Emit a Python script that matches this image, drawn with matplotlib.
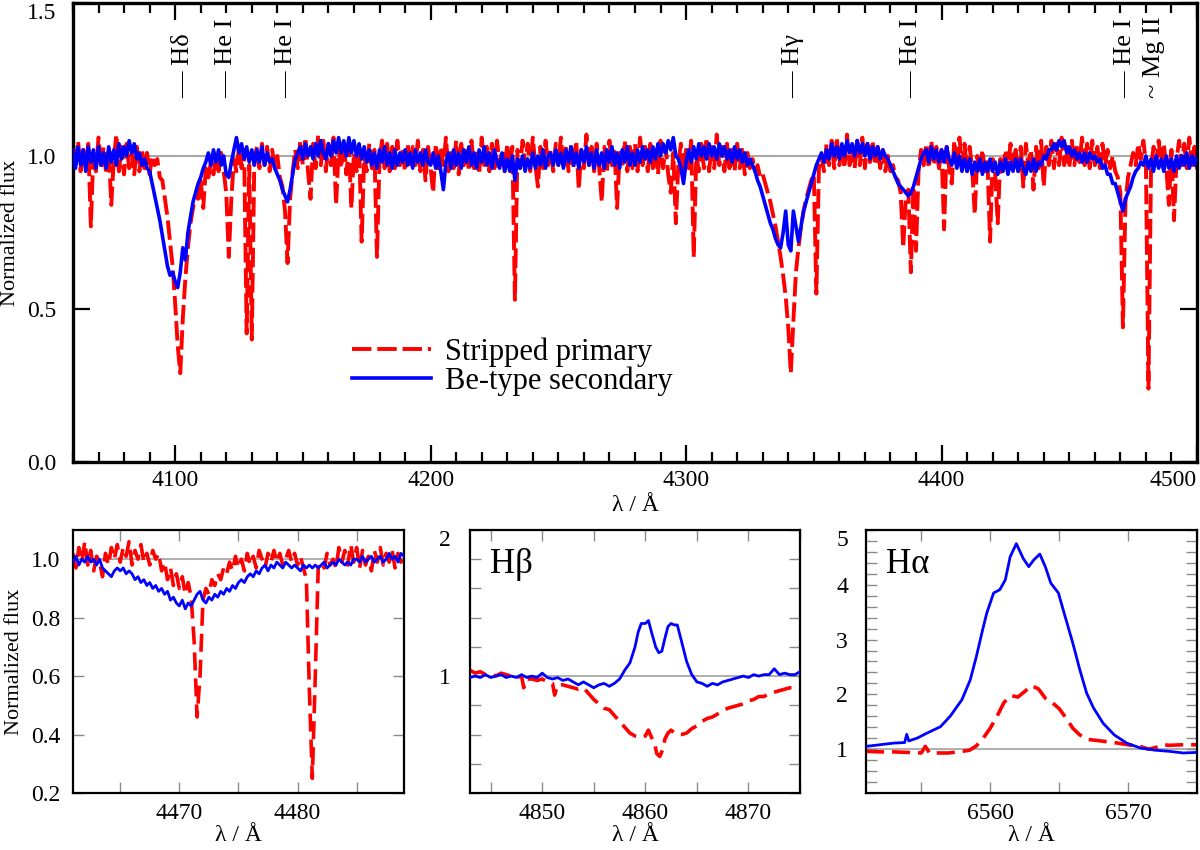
import matplotlib
matplotlib.use("Agg")
import matplotlib.pyplot as plt
import numpy as np
from matplotlib.ticker import MultipleLocator, FixedLocator, FormatStrFormatter

plt.rcParams["font.family"] = ["Liberation Serif", "DejaVu Serif"]

# ---- main panel: 1 A grid starting at 4060 A ----
MAIN_START = 4060
red_main = [
    1.03, 0.96, 1.05, 0.95, 1.02, 0.97, 1.04, 0.77, 1.01, 0.95,
    1.06, 0.96, 1.03, 0.94, 1.02, 0.84, 0.99, 1.07, 0.95, 1.03,
    0.94, 1.04, 0.96, 1.01, 0.94, 1.03, 0.95, 1.02, 0.96, 1.01,
    0.94, 1.00, 0.97, 0.99, 0.93, 0.92, 0.86, 0.80, 0.72, 0.64,
    0.52, 0.38, 0.29, 0.47, 0.60, 0.70, 0.78, 0.83, 0.87, 0.86,
    0.92, 0.83, 0.96, 0.93, 0.98, 0.94, 1.00, 0.95, 1.01, 0.95,
    0.88, 0.67, 0.86, 0.99, 0.95, 1.03, 0.96, 1.02, 0.42, 0.97,
    0.40, 0.99, 1.03, 0.96, 1.04, 0.97, 1.03, 0.95, 1.02, 0.96,
    1.00, 0.93, 0.90, 0.82, 0.65, 0.86, 0.95, 1.02, 0.96, 1.05,
    0.97, 1.06, 0.95, 0.86, 1.04, 0.96, 1.07, 0.97, 1.05, 0.95,
    1.04, 0.97, 1.06, 0.84, 1.02, 0.96, 1.05, 0.94, 1.03, 0.83,
    1.01, 0.95, 1.04, 0.72, 1.00, 0.95, 1.04, 0.96, 1.02, 0.67,
    0.99, 1.05, 0.96, 1.04, 0.95, 1.03, 0.96, 1.05, 0.97, 1.02,
    0.95, 1.04, 0.96, 1.03, 0.97, 1.05, 0.95, 1.02, 0.92, 1.03,
    0.96, 0.88, 1.04, 0.95, 1.03, 0.97, 1.06, 0.95, 1.02, 0.96,
    1.05, 0.94, 1.04, 0.97, 1.03, 0.95, 1.05, 0.96, 1.02, 0.94,
    1.06, 0.97, 1.03, 0.95, 1.04, 0.96, 1.05, 0.97, 1.02, 0.95,
    1.04, 0.96, 1.03, 0.53, 1.02, 0.96, 1.05, 0.97, 1.04, 0.95,
    1.06, 0.97, 0.90, 1.03, 0.96, 1.05, 0.97, 1.02, 0.95, 1.04,
    0.97, 1.06, 0.96, 1.03, 0.95, 1.04, 0.96, 1.05, 0.89, 1.02,
    0.96, 1.07, 0.97, 1.03, 0.95, 1.04, 0.96, 0.85, 1.03, 0.95,
    1.05, 0.97, 1.02, 0.83, 1.01, 0.96, 1.05, 0.95, 1.03, 0.96,
    1.04, 0.95, 1.06, 0.97, 1.03, 0.95, 1.04, 0.96, 1.02, 0.94,
    1.05, 0.96, 1.03, 0.94, 0.88, 1.01, 0.78, 0.98, 1.04, 0.95,
    1.02, 0.96, 1.05, 0.67, 1.00, 0.95, 1.04, 0.96, 1.06, 0.95,
    1.03, 0.96, 1.07, 0.97, 1.03, 0.95, 1.04, 0.96, 1.02, 0.95,
    1.04, 0.96, 1.02, 0.94, 1.01, 0.96, 0.99, 0.95, 0.97, 0.93,
    0.94, 0.91, 0.88, 0.85, 0.81, 0.77, 0.72, 0.67, 0.61, 0.54,
    0.44, 0.29, 0.46, 0.62, 0.70, 0.77, 0.82, 0.86, 0.89, 0.92,
    0.94, 0.55, 0.96, 1.00, 0.95, 1.04, 0.97, 1.05, 0.96, 1.06,
    0.97, 1.04, 0.96, 1.07, 0.97, 1.03, 0.96, 1.05, 0.97, 1.06,
    0.96, 1.04, 0.98, 1.05, 0.97, 1.03, 0.96, 1.02, 0.95, 1.00,
    0.95, 0.97, 0.93, 0.92, 0.88, 0.70, 0.86, 0.89, 0.62, 0.90,
    0.69, 0.95, 1.02, 0.97, 1.04, 0.96, 1.05, 0.97, 1.03, 0.96,
    1.02, 0.76, 1.03, 0.96, 0.91, 1.05, 0.96, 1.06, 0.97, 1.04,
    0.95, 1.03, 0.96, 0.81, 1.00, 0.94, 1.02, 0.95, 0.98, 0.72,
    0.99, 0.94, 0.78, 0.99, 0.95, 1.02, 0.96, 1.04, 0.96, 1.02,
    0.95, 1.03, 0.90, 1.04, 0.97, 1.02, 0.89, 1.03, 0.96, 1.05,
    0.90, 1.03, 0.97, 1.05, 0.96, 1.04, 0.97, 1.06, 0.97, 1.03,
    0.96, 1.05, 0.97, 1.04, 0.98, 1.06, 0.97, 1.04, 0.96, 1.05,
    0.97, 1.03, 0.96, 1.04, 0.97, 1.02, 0.96, 1.00, 0.95, 0.93,
    0.88, 0.44, 0.85, 0.93, 0.97, 1.01, 0.97, 1.04, 0.99, 1.05,
    0.98, 0.24, 0.96, 1.03, 0.98, 1.05, 0.97, 1.04, 0.96, 0.84,
    1.02, 0.79, 0.99, 1.05, 0.97, 1.04, 0.96, 1.06, 0.97, 1.03,
    0.96, 1.04, 0.97, 1.05, 0.96, 1.03, 0.97, 1.05, 0.96, 1.03,
    0.97,
]
blue_main = [
    1.02, 0.96, 1.03, 0.97, 1.02, 0.95, 1.03, 0.98, 1.02, 0.96,
    1.03, 0.97, 1.01, 0.96, 1.03, 0.98, 1.02, 0.97, 1.04, 0.99,
    1.03, 1.00, 1.05, 1.01, 1.04, 0.99, 1.01, 0.97, 0.99, 0.96,
    0.95, 0.91, 0.87, 0.83, 0.79, 0.74, 0.69, 0.64, 0.61, 0.62,
    0.59, 0.57, 0.62, 0.70, 0.66, 0.75, 0.80, 0.85, 0.88, 0.91,
    0.93, 0.96, 0.98, 1.01, 0.97, 1.02, 0.98, 1.02, 0.97, 1.00,
    0.94, 0.93, 0.98, 1.02, 1.06, 1.01, 1.04, 0.99, 1.03, 0.98,
    1.02, 0.97, 1.02, 0.98, 1.03, 0.97, 1.01, 0.98, 0.99, 0.96,
    0.94, 0.92, 0.89, 0.87, 0.85, 0.89, 0.94, 0.99, 1.01, 1.03,
    0.99, 1.04, 1.00, 1.03, 0.99, 1.04, 1.00, 1.05, 1.01, 0.99,
    1.04, 1.00, 1.05, 1.01, 1.06, 1.01, 1.05, 1.00, 1.06, 1.01,
    1.05, 1.00, 1.04, 0.99, 1.03, 0.98, 1.02, 0.97, 1.01, 0.96,
    1.02, 0.98, 1.03, 0.97, 1.01, 0.96, 1.02, 0.97, 1.01, 0.98,
    1.02, 0.97, 1.01, 0.96, 1.02, 0.98, 1.01, 0.97, 1.02, 0.98,
    0.97, 1.01, 0.96, 1.00, 0.95, 0.89, 0.98, 1.01, 0.96, 1.02,
    0.97, 1.01, 0.96, 1.02, 0.98, 1.03, 0.97, 1.01, 0.96, 1.02,
    0.98, 1.03, 0.97, 1.01, 0.96, 1.02, 0.98, 0.96, 1.01, 0.95,
    0.99, 0.95, 1.00, 0.92, 0.99, 0.96, 1.00, 0.95, 0.99, 0.96,
    1.01, 0.96, 1.00, 0.97, 1.02, 0.96, 1.00, 1.01, 0.97, 1.02,
    0.97, 1.01, 0.96, 1.02, 0.98, 1.03, 0.97, 1.01, 0.96, 1.02,
    0.98, 1.03, 0.97, 1.01, 0.96, 1.02, 0.97, 1.01, 0.96, 1.02,
    0.98, 1.03, 0.97, 1.01, 0.96, 1.02, 0.98, 1.03, 0.97, 1.01,
    0.97, 1.02, 0.98, 1.03, 0.99, 1.02, 0.98, 1.03, 0.99, 1.04,
    1.00, 1.04, 1.01, 1.05, 1.02, 1.06, 1.00, 0.99, 0.96, 0.91,
    0.98, 1.02, 0.98, 1.03, 0.99, 1.04, 1.00, 1.03, 0.99, 1.04,
    1.00, 1.03, 0.99, 1.04, 1.00, 1.03, 0.99, 1.02, 0.98, 1.03,
    0.99, 1.02, 0.98, 1.01, 0.97, 0.99, 0.97, 0.95, 0.92, 0.90,
    0.87, 0.84, 0.81, 0.78, 0.76, 0.73, 0.71, 0.70, 0.75, 0.82,
    0.71, 0.69, 0.82, 0.77, 0.72, 0.77, 0.82, 0.85, 0.88, 0.91,
    0.94, 0.97, 0.99, 1.01, 0.98, 1.02, 0.99, 1.04, 1.00, 1.03,
    0.99, 1.04, 1.00, 1.05, 1.01, 1.04, 1.00, 1.05, 1.01, 1.04,
    1.00, 1.04, 0.99, 1.03, 1.00, 1.03, 0.99, 1.02, 1.00, 0.99,
    0.97, 0.95, 0.93, 0.91, 0.90, 0.89, 0.88, 0.87, 0.88, 0.90,
    0.93, 0.96, 0.99, 1.01, 1.02, 0.98, 1.03, 0.99, 1.02, 0.98,
    1.02, 0.98, 1.03, 0.99, 0.97, 1.01, 0.96, 1.00, 0.95, 0.99,
    0.95, 0.99, 0.94, 0.98, 0.95, 0.99, 0.94, 0.98, 0.95, 0.99,
    0.95, 0.98, 0.94, 0.98, 0.95, 0.99, 0.94, 0.98, 0.95, 0.99,
    0.95, 0.99, 0.96, 0.94, 0.98, 0.95, 0.99, 0.95, 0.98, 0.97,
    1.00, 0.99, 1.02, 1.02, 1.04, 1.02, 1.05, 1.03, 1.05, 1.01,
    1.03, 1.00, 1.02, 0.99, 1.01, 0.98, 1.01, 0.98, 1.01, 0.99,
    1.00, 0.98, 0.99, 0.96, 0.97, 0.94, 0.94, 0.91, 0.91, 0.88,
    0.85, 0.82, 0.86, 0.88, 0.90, 0.93, 0.95, 0.96, 0.98, 0.97,
    1.00, 0.96, 0.99, 0.95, 1.00, 0.96, 0.99, 0.95, 1.00, 0.96,
    0.99, 0.95, 1.00, 0.96, 1.00, 0.97, 1.01, 0.96, 1.00, 0.97,
    1.00, 0.96, 1.01, 0.97, 0.96, 1.00, 0.95, 0.99, 0.96, 1.00,
    0.98,
]

line_labels = ["\u2014 H\u03b4", "\u2014 He I", "\u2014 He I", "\u2014 H\u03b3",
               "\u2014 He I", "\u2014 He I", "~ Mg II"]
line_waves = [4103, 4120, 4143.5, 4342, 4388, 4472, 4483]

# ---- He I 4471 / Mg II 4481 zoom: 0.25 A grid from 4461 A ----
HEI_START = 4461
red_hei = [
    1.02, 0.97, 1.04, 0.99, 1.06, 0.98, 1.03, 0.96,
    1.01, 0.99, 0.94, 1.02, 0.98, 1.04, 1.00, 1.05,
    0.99, 1.04, 1.01, 1.06, 0.98, 1.03, 1.00, 1.05,
    0.99, 1.02, 0.98, 1.03, 1.00, 1.02, 0.96, 0.99,
    0.93, 0.97, 0.91, 0.95, 0.90, 0.94, 0.88, 0.92,
    0.87, 0.72, 0.46, 0.60, 0.86, 0.90, 0.88, 0.93,
    0.91, 0.95, 0.93, 0.97, 0.95, 0.99, 0.96, 1.01,
    0.97, 1.00, 0.96, 1.02, 0.98, 1.01, 0.97, 1.03,
    1.00, 0.97, 1.02, 0.99, 1.03, 0.99, 1.02, 0.98,
    1.00, 1.03, 0.99, 1.02, 0.98, 1.01, 0.97, 0.93,
    0.55, 0.25, 0.60, 0.97, 0.99, 0.97, 1.02, 0.98,
    1.00, 0.97, 1.04, 0.99, 1.03, 0.98, 1.05, 0.99,
    1.04, 0.97, 1.03, 0.98, 1.01, 0.96, 1.03, 0.99,
    1.04, 0.98, 1.02, 0.99, 1.03, 0.97, 1.02, 0.99,
    1.01,
]
blue_hei = [
    0.99, 1.01, 0.98, 1.00, 0.99, 1.01, 0.99, 1.00,
    0.98, 1.00, 0.97, 0.96, 0.95, 0.94, 0.96, 0.97,
    0.96, 0.97, 0.95, 0.96, 0.95, 0.93, 0.94, 0.92,
    0.93, 0.91, 0.92, 0.90, 0.91, 0.89, 0.90, 0.88,
    0.89, 0.86, 0.87, 0.85, 0.84, 0.86, 0.83, 0.85,
    0.84, 0.86, 0.88, 0.89, 0.86, 0.85, 0.87, 0.86,
    0.88, 0.87, 0.89, 0.88, 0.90, 0.89, 0.91, 0.90,
    0.92, 0.93, 0.92, 0.94, 0.95, 0.94, 0.96, 0.95,
    0.97, 0.98, 0.96, 0.98, 0.97, 0.99, 0.98, 0.97,
    0.99, 0.98, 0.97, 0.98, 0.97, 0.96, 0.98, 0.97,
    0.98, 0.97, 0.98, 0.97, 0.98, 0.99, 0.97, 0.98,
    0.99, 0.98, 1.00, 0.99, 0.98, 0.99, 0.98, 1.00,
    1.00, 0.99, 1.01, 0.99, 1.00, 1.01, 0.99, 1.00,
    1.01, 0.99, 1.00, 1.02, 1.00, 1.01, 0.99, 1.02,
    1.01,
]

# ---- H beta ----
hb_wave_blue = [
    4843.0, 4843.5, 4844.0, 4844.5, 4845.0, 4845.5, 4846.0, 4846.5, 4847.0, 4847.5,
    4848.0, 4848.5, 4849.0, 4849.5, 4850.0, 4850.5, 4851.0, 4851.5, 4852.0, 4852.5,
    4853.0, 4853.5, 4854.0, 4854.5, 4855.0, 4855.5, 4856.0, 4856.5, 4857.0, 4857.5,
    4858.0, 4858.5, 4859.0, 4859.3, 4859.6, 4860.0, 4860.3, 4860.6, 4861.0, 4861.3,
    4861.6, 4861.9, 4862.2, 4862.5, 4862.8, 4863.1, 4863.5, 4864.0, 4864.5, 4865.0,
    4865.5, 4866.0, 4866.5, 4867.0, 4867.5, 4868.0, 4868.5, 4869.0, 4869.5, 4870.0,
    4870.5, 4871.0, 4871.5, 4872.0, 4872.5, 4873.0, 4873.5, 4874.0, 4874.5, 4875.0,
]
hb_flux_blue = [
    0.99, 1.00, 0.99, 1.01, 0.99, 1.00, 1.01, 0.99, 1.00, 0.99,
    1.01, 0.99, 1.00, 0.99, 1.02, 0.99, 0.98, 0.99, 0.97, 0.98,
    0.96, 0.94, 0.96, 0.94, 0.92, 0.94, 0.95, 0.93, 0.95, 0.98,
    1.04, 1.09, 1.20, 1.30, 1.36, 1.36, 1.38, 1.30, 1.20, 1.16,
    1.17, 1.26, 1.34, 1.36, 1.35, 1.35, 1.24, 1.10, 1.01, 0.96,
    0.95, 0.93, 0.95, 0.94, 0.96, 0.97, 0.98, 0.99, 1.00, 0.99,
    1.01, 1.00, 1.01, 1.01, 1.05, 1.01, 1.02, 1.01, 1.01, 1.03,
]
hb_wave_red = [
    4843.0, 4843.5, 4844.0, 4844.5, 4845.0, 4845.5, 4846.0, 4846.5, 4847.0, 4847.5,
    4848.0, 4848.2, 4848.5, 4849.0, 4849.5, 4850.0, 4850.5, 4851.0, 4851.2, 4851.5,
    4852.0, 4852.5, 4853.0, 4853.5, 4854.0, 4854.5, 4855.0, 4855.5, 4856.0, 4856.5,
    4857.0, 4857.5, 4858.0, 4858.5, 4859.0, 4859.5, 4860.0, 4860.3, 4860.6, 4860.9,
    4861.1, 4861.4, 4861.7, 4861.9, 4862.2, 4862.5, 4863.0, 4863.5, 4864.0, 4864.5,
    4865.0, 4865.5, 4866.0, 4866.5, 4867.0, 4867.5, 4868.0, 4868.5, 4869.0, 4869.5,
    4870.0, 4870.5, 4871.0, 4871.5, 4872.0, 4872.5, 4873.0, 4873.5, 4874.0, 4874.5,
    4875.0,
]
hb_flux_red = [
    1.04, 1.02, 1.03, 1.01, 1.02, 1.00, 1.02, 1.01, 1.00, 0.99,
    1.00, 0.92, 0.98, 0.98, 0.97, 0.98, 0.96, 0.95, 0.87, 0.94,
    0.94, 0.93, 0.92, 0.91, 0.92, 0.88, 0.84, 0.81, 0.78, 0.77,
    0.73, 0.69, 0.65, 0.61, 0.59, 0.58, 0.59, 0.63, 0.58, 0.54,
    0.47, 0.45, 0.50, 0.57, 0.61, 0.63, 0.60, 0.60, 0.61, 0.64,
    0.66, 0.69, 0.71, 0.72, 0.74, 0.76, 0.78, 0.79, 0.80, 0.81,
    0.83, 0.84, 0.86, 0.86, 0.88, 0.89, 0.90, 0.91, 0.92, 0.92,
    0.91,
]

# ---- H alpha ----
ha_wave_blue = [
    6551.0, 6552.0, 6553.0, 6553.8, 6553.95, 6554.1, 6554.7, 6555.4, 6556.4, 6557.1,
    6557.95, 6558.55, 6559.0, 6559.4, 6559.75, 6560.25, 6560.7, 6561.1, 6561.45, 6561.9,
    6562.4, 6562.8, 6563.15, 6563.6, 6564.0, 6564.4, 6564.95, 6565.3, 6566.0, 6566.5,
    6567.0, 6567.5, 6568.2, 6569.0, 6569.9, 6570.9, 6572.0, 6573.0, 6574.0, 6575.0,
]
ha_flux_blue = [
    1.05, 1.08, 1.11, 1.12, 1.27, 1.15, 1.20, 1.29, 1.41, 1.60,
    1.90, 2.26, 2.69, 3.12, 3.48, 3.85, 3.91, 4.09, 4.51, 4.75,
    4.48, 4.33, 4.45, 4.56, 4.33, 4.03, 3.85, 3.54, 2.93, 2.45,
    2.02, 1.75, 1.47, 1.26, 1.11, 1.02, 0.98, 0.96, 0.93, 0.94,
]
ha_wave_red = [
    6551.0, 6552.0, 6553.0, 6554.0, 6555.0, 6555.3, 6555.6, 6556.0, 6557.0, 6558.0,
    6558.5, 6559.0, 6559.5, 6560.0, 6560.5, 6561.0, 6561.5, 6562.0, 6562.5, 6563.0,
    6563.5, 6564.0, 6564.5, 6565.0, 6565.5, 6566.0, 6566.5, 6567.0, 6568.0, 6569.0,
    6570.0, 6571.0, 6571.5, 6572.0, 6572.5, 6573.0, 6574.0, 6575.0,
]
ha_flux_red = [
    0.96, 0.95, 0.95, 0.94, 0.93, 1.05, 0.93, 0.93, 0.93, 0.96,
    0.98, 1.06, 1.20, 1.38, 1.60, 1.85, 1.98, 1.95, 2.05, 2.16,
    2.10, 1.93, 1.85, 1.74, 1.57, 1.38, 1.26, 1.18, 1.15, 1.12,
    1.08, 1.04, 1.00, 1.03, 1.08, 1.07, 1.08, 1.08,
]

MAIN_DASH = (0, (5, 1.5))
RED_DASH = (0, (5, 2.2))
GRID_GRAY = "#a8a8a8"
TICK_GRAY = "#8a8a8a"
LAMBDA_LABEL = "\u03bb / \u00c5"


def style_small(ax):
    for spine in ax.spines.values():
        spine.set_linewidth(1.6)
    ax.tick_params(which="both", direction="in", top=True, right=True,
                   color=TICK_GRAY, width=1.0, length=8, labelsize=17)
    ax.tick_params(axis="x", pad=7)
    ax.tick_params(axis="y", pad=9)


def main() -> None:
    fig = plt.figure(figsize=(12, 8.5), dpi=100)

    # ---- main panel ----
    ax = fig.add_axes([0.0608, 0.4565, 0.9367, 0.540])
    ax.axhline(1.0, color=GRID_GRAY, lw=1.5, zorder=1)
    ax.plot(MAIN_START + np.arange(len(red_main)), red_main, color="red",
            lw=2.8, ls=MAIN_DASH, zorder=2, label="Stripped primary")
    ax.plot(MAIN_START + np.arange(len(blue_main)), blue_main, color="blue",
            lw=2.6, zorder=3, label="Be-type secondary")
    ax.set_xlim(4060, 4500)
    ax.set_ylim(0.0, 1.5)
    ax.xaxis.set_major_locator(FixedLocator([4100, 4200, 4300, 4400, 4500]))
    ax.xaxis.set_minor_locator(MultipleLocator(10))
    ax.yaxis.set_major_locator(FixedLocator([0.0, 0.5, 1.0, 1.5]))
    ax.yaxis.set_major_formatter(FormatStrFormatter("%.1f"))
    for spine in ax.spines.values():
        spine.set_linewidth(2.4)
    ax.tick_params(which="both", direction="in", top=True, right=True,
                   width=1.6, labelsize=17)
    ax.tick_params(which="major", length=12)
    ax.tick_params(which="minor", length=7)
    ax.tick_params(axis="x", pad=6)
    ax.tick_params(axis="y", pad=12)
    ax.xaxis.get_major_ticks()[-1].label1.set_horizontalalignment("right")
    ax.yaxis.get_major_ticks()[-1].label1.set_verticalalignment("top")
    ax.set_xlabel(LAMBDA_LABEL, fontsize=17, labelpad=3)
    ax.set_ylabel("Normalized flux", fontsize=16, labelpad=5)

    for lab, pos in zip(line_labels, line_waves):
        ax.text(pos, 1.19, lab, rotation=90, ha="center", va="bottom", fontsize=19)

    ax.legend(loc="upper left", bbox_to_anchor=(0.248, 0.272), frameon=False,
              fontsize=22, handlelength=2.6, handletextpad=0.45,
              borderaxespad=0, borderpad=0, labelspacing=0.0)

    # ---- He I 4471 / Mg II 4481 ----
    ax1 = fig.add_axes([0.0608, 0.0671, 0.2758, 0.3094])
    ax1.axhline(1.0, color=GRID_GRAY, lw=1.3, zorder=1)
    ax1.plot(HEI_START + 0.25 * np.arange(len(red_hei)), red_hei,
             color="red", lw=2.6, ls=RED_DASH, zorder=2)
    ax1.plot(HEI_START + 0.25 * np.arange(len(blue_hei)), blue_hei,
             color="blue", lw=2.0, zorder=3)
    ax1.set_xlim(4461, 4489)
    ax1.set_ylim(0.2, 1.1)
    ax1.xaxis.set_major_locator(FixedLocator([4470, 4480]))
    ax1.xaxis.set_minor_locator(FixedLocator([4465, 4475, 4485]))
    ax1.yaxis.set_major_locator(FixedLocator([0.2, 0.4, 0.6, 0.8, 1.0]))
    ax1.yaxis.set_major_formatter(FormatStrFormatter("%.1f"))
    style_small(ax1)
    ax1.set_xlabel(LAMBDA_LABEL, fontsize=17, labelpad=1)
    ax1.set_ylabel("Normalized flux", fontsize=16, labelpad=5)

    # ---- H beta ----
    ax2 = fig.add_axes([0.3917, 0.0671, 0.2750, 0.3094])
    ax2.axhline(1.0, color=GRID_GRAY, lw=1.3, zorder=1)
    ax2.plot(hb_wave_red, hb_flux_red, color="red", lw=2.6, ls=RED_DASH, zorder=2)
    ax2.plot(hb_wave_blue, hb_flux_blue, color="blue", lw=2.0, zorder=3)
    ax2.set_xlim(4843, 4875)
    ax2.set_ylim(0.2, 2.0)
    ax2.xaxis.set_major_locator(FixedLocator([4850, 4860, 4870]))
    ax2.xaxis.set_minor_locator(FixedLocator([4845, 4855, 4865, 4875]))
    ax2.yaxis.set_major_locator(FixedLocator([1, 2]))
    ax2.yaxis.set_minor_locator(MultipleLocator(0.2))
    style_small(ax2)
    ax2.tick_params(axis="y", pad=14)
    ax2.yaxis.get_major_ticks()[-1].label1.set_verticalalignment("top")
    ax2.set_xlabel(LAMBDA_LABEL, fontsize=17, labelpad=1)
    ax2.text(0.06, 0.93, "H\u03b2", transform=ax2.transAxes, fontsize=25,
             ha="left", va="top")

    # ---- H alpha ----
    ax3 = fig.add_axes([0.7217, 0.0671, 0.2758, 0.3094])
    ax3.axhline(1.0, color=GRID_GRAY, lw=1.3, zorder=1)
    ax3.plot(ha_wave_red, ha_flux_red, color="red", lw=2.6, ls=RED_DASH, zorder=2)
    ax3.plot(ha_wave_blue, ha_flux_blue, color="blue", lw=2.0, zorder=3)
    ax3.set_xlim(6551, 6575)
    ax3.set_ylim(0.2, 5.0)
    ax3.xaxis.set_major_locator(FixedLocator([6560, 6570]))
    ax3.xaxis.set_minor_locator(FixedLocator([6555, 6565, 6575]))
    ax3.yaxis.set_major_locator(FixedLocator([1, 2, 3, 4, 5]))
    ax3.yaxis.set_minor_locator(MultipleLocator(0.2))
    style_small(ax3)
    ax3.tick_params(axis="y", pad=13)
    ax3.yaxis.get_major_ticks()[-1].label1.set_verticalalignment("top")
    ax3.set_xlabel(LAMBDA_LABEL, fontsize=17, labelpad=1)
    ax3.text(0.06, 0.93, "H\u03b1", transform=ax3.transAxes, fontsize=25,
             ha="left", va="top")

    fig.savefig("out.png", dpi=100)
    plt.close(fig)


if __name__ == "__main__":
    main()
